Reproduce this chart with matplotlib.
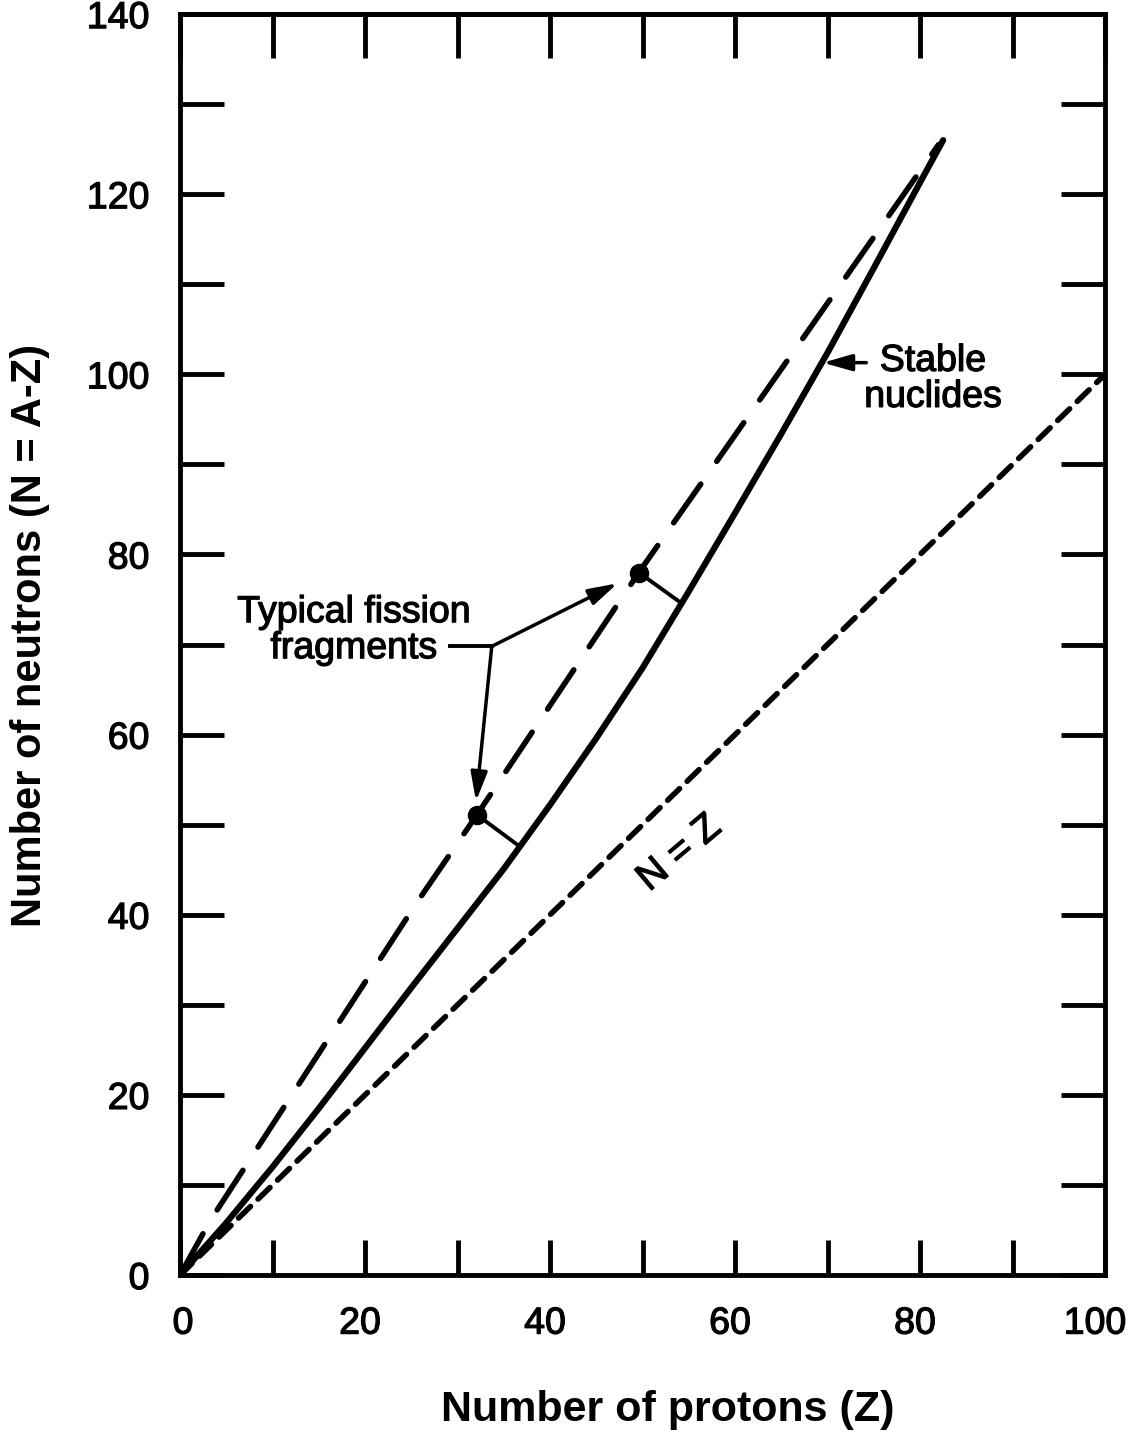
import matplotlib
matplotlib.use('Agg')
import matplotlib.pyplot as plt
import matplotlib.patheffects as pe
from matplotlib.transforms import ScaledTranslation

plt.rcParams['font.family'] = ['Liberation Sans', 'DejaVu Sans']

# stable nuclides line (Z, N)
stable_z = [0, 5, 10, 15, 20, 25, 30, 35, 40, 45, 50, 55, 60, 65, 70, 75, 80, 82.5]
stable_n = [0, 5.8, 12, 18.5, 25.2, 31.9, 38.5, 45.1, 52.2, 59.6, 67.4, 75.9, 84.6, 93.4,
            102.4, 111.8, 121.3, 126]

# fission line (long dashes)
fission_z = [0, 3.3, 25.5, 32.1, 49.6, 82]
fission_n = [0, 6.1, 41.2, 51.1, 78.0, 125.5]

# N = Z line
nz_z = [0, 100]
nz_n = [0, 100]

# typical fission fragments and where their decay chains reach stability
frag_z = [32.1, 49.6]
frag_n = [51.1, 78.0]
decay_z = [36.7, 54.2]
decay_n = [47.6, 74.6]

x_ticks = list(range(0, 101, 10))
y_ticks = list(range(0, 141, 10))
x_labels = [str(v) if v % 20 == 0 else '' for v in x_ticks]
y_labels = [str(v) if v % 20 == 0 else '' for v in y_ticks]

heavy = [pe.withStroke(linewidth=0.9, foreground='k')]

fig = plt.figure(figsize=(11.33, 14.37), dpi=100)
ax = fig.add_axes([0.1589, 0.1127, 0.8164, 0.8775])

ax.plot(nz_z, nz_n, color='k', lw=4, dashes=(3.0, 1.9), dash_capstyle='round')
ax.plot(fission_z, fission_n, color='k', lw=4, dashes=(8.5, 5.0), dash_capstyle='round')
ax.plot(stable_z, stable_n, color='k', lw=4.5, solid_capstyle='round', solid_joinstyle='round')

for fz, fn, dz, dn in zip(frag_z, frag_n, decay_z, decay_n):
    ax.plot([fz, dz], [fn, dn], color='k', lw=2.8)
ax.plot(frag_z, frag_n, 'o', color='k', ms=13)

# annotation: typical fission fragments
ax.text(18.8, 71.6, 'Typical fission\nfragments', fontsize=27, ha='center', va='center',
        linespacing=1.0, path_effects=heavy)
ax.plot([29.2, 33.7], [69.8, 69.8], color='k', lw=2.8)
arrow = dict(arrowstyle='-|>,head_length=0.7,head_width=0.2', color='k', lw=2.5,
             mutation_scale=25, shrinkA=0, shrinkB=0)
ax.annotate('', xy=(47.3, 76.8), xytext=(33.7, 69.8), arrowprops=arrow)
ax.annotate('', xy=(32.0, 52.6), xytext=(33.7, 69.8), arrowprops=arrow)

# annotation: stable nuclides
ax.text(81.4, 99.5, 'Stable\nnuclides', fontsize=27, ha='center', va='center', linespacing=1.0,
        path_effects=heavy)
ax.annotate('', xy=(69.5, 101.3), xytext=(74.2, 101.3), arrowprops=arrow)

ax.text(54.0, 46.8, 'N = Z', fontsize=28, ha='center', va='center', rotation=40,
        rotation_mode='anchor', path_effects=heavy)

ax.set_xlim(0, 100)
ax.set_ylim(0, 140)
ax.set_xticks(x_ticks)
ax.set_xticklabels(x_labels)
ax.set_yticks(y_ticks)
ax.set_yticklabels(y_labels)
ax.tick_params(axis='x', direction='in', length=25, width=3.5, pad=22, labelsize=27)
ax.tick_params(axis='y', direction='in', length=32, width=3.5, pad=22, labelsize=27,
               right=True)
for s in ax.spines.values():
    s.set_linewidth(3.5)

# the scanned tick labels sit a little left of their ticks (except the 0)
for i, lab in enumerate(ax.get_xticklabels()):
    if i == 0:
        dx = 0.03
    elif i == len(x_ticks) - 1:
        dx = -0.10
    else:
        dx = -0.05
    lab.set_transform(lab.get_transform() + ScaledTranslation(dx, 0, fig.dpi_scale_trans))
for lab in ax.get_xticklabels() + ax.get_yticklabels():
    lab.set_path_effects(heavy)

top = ax.secondary_xaxis('top')
top.set_xticks(x_ticks)
top.set_xticklabels([])
top.tick_params(direction='in', length=32, width=3.5)
top.spines['top'].set_linewidth(3.5)

ax.set_xlabel('Number of protons (Z)', fontsize=31, fontweight='bold', va='center')
ax.xaxis.set_label_coords(0.527, -0.107)
ax.set_ylabel('Number of neutrons (N = A-Z)', fontsize=30, fontweight='bold', va='center')
ax.yaxis.set_label_coords(-0.162, 0.5075)

fig.savefig('out.png', dpi=100)
